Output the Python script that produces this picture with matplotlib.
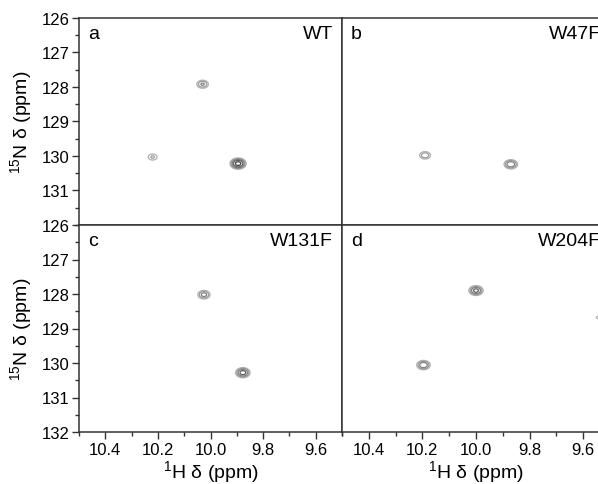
import numpy as np
import matplotlib
matplotlib.use("Agg")
import matplotlib.pyplot as plt
from matplotlib.ticker import MultipleLocator, FormatStrFormatter

plt.rcParams['font.family'] = ['Liberation Sans', 'DejaVu Sans']
plt.rcParams['mathtext.fontset'] = 'custom'
plt.rcParams['mathtext.rm'] = 'Liberation Sans'
plt.rcParams['mathtext.default'] = 'regular'

# panel letters and mutant names
letters = ['a', 'b', 'c', 'd']
names = ['WT', 'W47F', 'W131F', 'W204F']

# peak positions (1H ppm, 15N ppm) and relative intensity, per panel
peaks_h = [[10.03, 10.22, 9.895],
           [10.19, 9.87],
           [10.025, 9.877],
           [10.0, 10.196, 9.545]]
peaks_n = [[127.92, 130.03, 130.22],
           [129.98, 130.24],
           [128.02, 130.28],
           [127.9, 130.06, 128.68]]
peaks_amp = [[0.35, 0.22, 1.0],
             [0.3, 0.5],
             [0.4, 0.65],
             [0.6, 0.5, 0.13]]

levels = [0.12, 0.2, 0.32, 0.5, 0.8]
colors = ['#b0b0b0', '#9a9a9a', '#808080', '#606060', '#444444']

fig = plt.figure(figsize=(5.98, 4.85), dpi=100)
widths = [263 / 598, 268 / 598]
H = 207 / 485
x_left = [79 / 598, 342 / 598]
y_bot = [1 - 226 / 485, 1 - 433 / 485]

h = np.linspace(9.4, 10.6, 600)
n = np.linspace(125.5, 132.5, 600)
HH, NN = np.meshgrid(h, n)

for i in range(4):
    row, col = divmod(i, 2)
    ax = fig.add_axes([x_left[col], y_bot[row], widths[col], H])
    z = np.zeros_like(HH)
    for ph, pn, pa in zip(peaks_h[i], peaks_n[i], peaks_amp[i]):
        z += pa * np.exp(-((HH - ph) / 0.015) ** 2 / 2 - ((NN - pn) / 0.08) ** 2 / 2)
    ax.contour(HH, NN, z, levels=levels, colors=colors, linewidths=0.9)

    ax.set_xlim(10.5, 9.5)
    ax.set_ylim(132, 126)
    ax.xaxis.set_minor_locator(MultipleLocator(0.1))
    ax.yaxis.set_minor_locator(MultipleLocator(0.5))
    ax.set_xticks([10.4, 10.2, 10.0, 9.8, 9.6])
    if row == 0:
        ax.set_yticks([126, 127, 128, 129, 130, 131])
    else:
        ax.set_yticks([126, 127, 128, 129, 130, 131, 132])
    ax.tick_params(which='major', direction='out', length=5, width=1, labelsize=12, color='#333333')
    ax.tick_params(which='minor', direction='out', length=3, width=1, color='#333333')
    ax.tick_params(axis='x', pad=2)
    ax.tick_params(axis='y', pad=2)
    if row == 0:
        ax.tick_params(axis='x', which='both', bottom=False, labelbottom=False)
    else:
        ax.xaxis.set_major_formatter(FormatStrFormatter('%.1f'))
        ax.set_xlabel(r'$^{1}$H δ (ppm)', fontsize=14, labelpad=1)
    if col == 1:
        ax.tick_params(axis='y', which='both', left=False, labelleft=False)
    else:
        ax.set_ylabel(r'$^{15}$N δ (ppm)', fontsize=14, labelpad=5)
    for s in ax.spines.values():
        s.set_linewidth(1.1)
        s.set_color('#333333')

    ax.text(9 / 263, 1 - 7 / 207, letters[i], transform=ax.transAxes, ha='left', va='top', fontsize=14)
    ax.text(1 - 9 / 263, 1 - 7 / 207, names[i], transform=ax.transAxes, ha='right', va='top', fontsize=14)

fig.savefig('out.png', dpi=100)
